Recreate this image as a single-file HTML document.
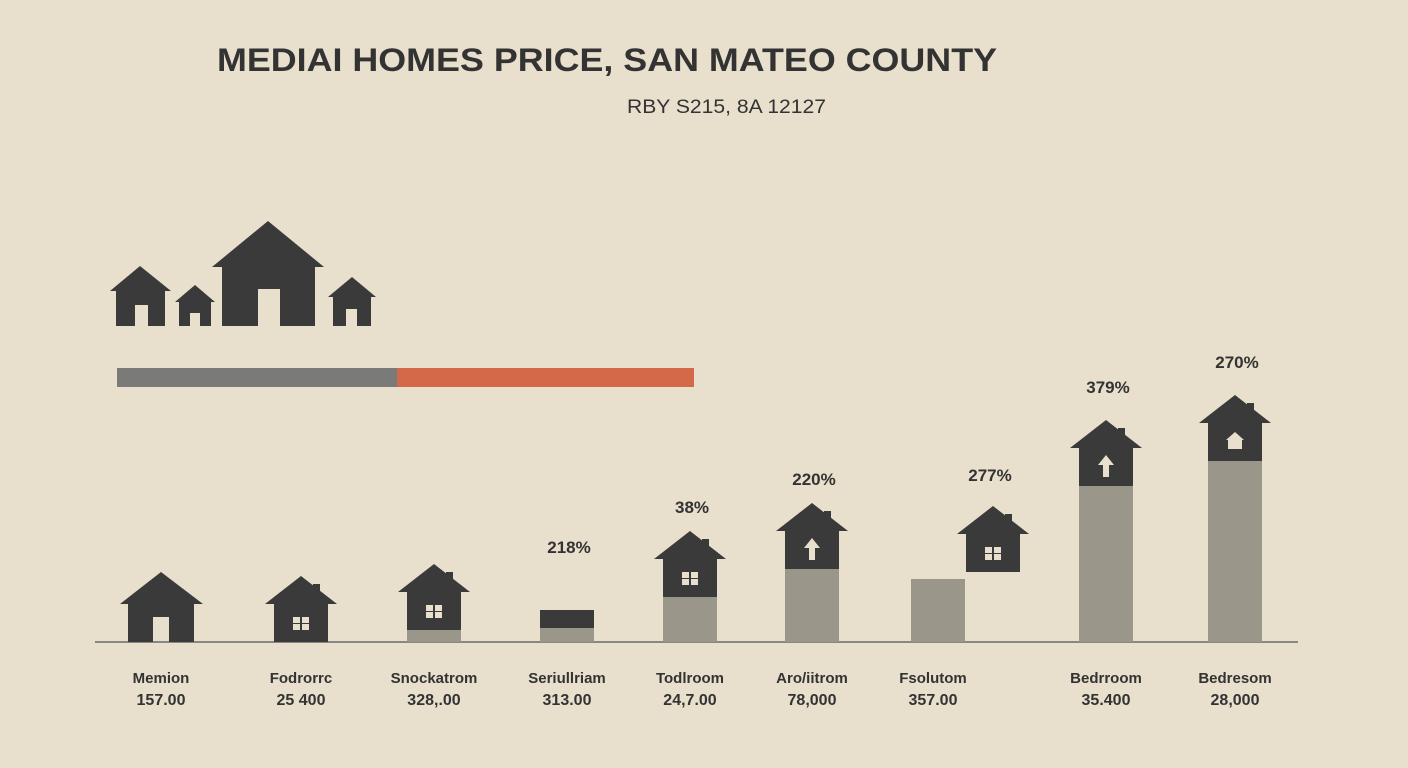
<!DOCTYPE html>
<html><head><meta charset="utf-8">
<style>
html,body{margin:0;padding:0;background:#e8dfcc;}
svg{display:block;font-family:"Liberation Sans",sans-serif;}
</style></head>
<body>
<svg id="chart" width="1408" height="768" viewBox="0 0 1408 768">
<rect width="1408" height="768" fill="#e8dfcc"/>
<text x="217" y="71" font-size="32" font-weight="bold" fill="#333" textLength="780" lengthAdjust="spacingAndGlyphs">MEDIAI HOMES PRICE, SAN MATEO COUNTY</text>
<text x="627" y="113" font-size="19" fill="#333" textLength="199" lengthAdjust="spacingAndGlyphs">RBY S215, 8A 12127</text>
<g fill="#3a3a3a">
<path d="M110 291 L140 266 L171 291 L165 291 L165 326 L148 326 L148 305 L135 305 L135 326 L116 326 L116 291 Z"/>
<path d="M175 302 L195 285 L215 302 L211 302 L211 326 L200 326 L200 313 L190 313 L190 326 L179 326 L179 302 Z"/>
<path d="M212 267 L268 221 L324 267 L315 267 L315 326 L280 326 L280 289 L258 289 L258 326 L222 326 L222 267 Z"/>
<path d="M328 297 L352 277 L376 297 L371 297 L371 326 L357 326 L357 309 L346 309 L346 326 L333 326 L333 297 Z"/>
</g>
<rect x="117" y="368" width="280" height="19" fill="#7a7a78"/>
<rect x="397" y="368" width="297" height="19" fill="#d4694a"/>
<line x1="95" y1="642" x2="1298" y2="642" stroke="#8a8780" stroke-width="2"/>
<g id="marks"></g>
</svg>
<script>
const categories = ["Memion","Fodrorrc","Snockatrom","Seriullriam","Todlroom","Aro/iitrom","Fsolutom","Bedrroom","Bedresom"];
const valueLabels = ["157.00","25 400","328,.00","313.00","24,7.00","78,000","357.00","35.400","28,000"];
const barValues = [0,0,12,14,45,73,63,156,181];
const pctLabels = ["","","","218%","38%","220%","277%","379%","270%"];
const centers = [161,301,434,567,690,812,938,1106,1235];
const baseY = 642;
function y(v){ return baseY - v; }
const NS = "http://www.w3.org/2000/svg";
const g = document.getElementById("marks");
function mk(tag, attrs){ const e=document.createElementNS(NS,tag); for(const k in attrs) e.setAttribute(k,attrs[k]); g.appendChild(e); return e; }
function house(cx, bottom, i, kind){
  const w=54, bodyH=38, roofH=28, over=9;
  const top = bottom - bodyH, peak = top - roofH;
  const p = mk("path",{d:`M${cx-w/2-over} ${top} L${cx} ${peak} L${cx+w/2+over} ${top} L${cx+w/2} ${top} L${cx+w/2} ${bottom} L${cx-w/2} ${bottom} L${cx-w/2} ${top} Z`,fill:"#3a3a3a"});
  
  
  const ch = mk("rect",{x:cx+12,y:peak+8,width:7,height:14,fill:"#3a3a3a"});
  
  
  const my = top + bodyH/2;
  if(kind==="win"){
    const r=mk("path",{d:`M${cx-8} ${my-6}h7v6h-7z M${cx+1} ${my-6}h7v6h-7z M${cx-8} ${my+1}h7v6h-7z M${cx+1} ${my+1}h7v6h-7z`,fill:"#e8dfcc"});
    
    
  } else if(kind==="arrow"){
    const r=mk("path",{d:`M${cx} ${my-12} L${cx+8} ${my-2} L${cx+3} ${my-2} L${cx+3} ${my+10} L${cx-3} ${my+10} L${cx-3} ${my-2} L${cx-8} ${my-2} Z`,fill:"#e8dfcc"});
    
    
  } else if(kind==="mini"){
    const r=mk("path",{d:`M${cx} ${my-10} L${cx+9} ${my-2} L${cx+7} ${my-2} L${cx+7} ${my+7} L${cx-7} ${my+7} L${cx-7} ${my-2} L${cx-9} ${my-2} Z`,fill:"#e8dfcc"});
    
    
  }
}
const kinds = ["door","win","win","none","win","arrow","win","arrow","mini"];
categories.forEach((c,i)=>{
  const v = barValues[i];
  let cx = centers[i];
  let barX = cx - 27;
  if(i===6){ barX = 911; }
  if(v>0){
    const b = mk("rect",{x:barX,y:y(v),width:54,height:v,fill:"#9a978a"});
    
    
  }
  let houseBottom = y(v);
  if(i===0){
    const p=mk("path",{d:`M120 604 L161 572 L203 604 L194 604 L194 642 L169 642 L169 617 L153 617 L153 642 L128 642 L128 604 Z`,fill:"#3a3a3a"});
    
    
  } else if(i===3){
    const r=mk("rect",{x:cx-27,y:y(v)-18,width:54,height:18,fill:"#3a3a3a"});
    
    
  } else if(i===6){
    house(993, 572, i, kinds[i]);
  } else {
    house(cx, houseBottom, i, kinds[i]);
  }
  if(pctLabels[i]){
    const py = i===3 ? 553 : (i===6 ? 481 : y(v)-38-28-18 - (i>=7?9:0));
    const tx = mk("text",{x:i===6?990:cx+2,y:py,"text-anchor":"middle","font-size":"17","font-weight":"bold",fill:"#333"});
    tx.textContent = pctLabels[i];
    
    
  }
  const lx = i===6 ? 933 : cx;
  const t1 = mk("text",{x:lx,y:683,"text-anchor":"middle","font-size":"15","font-weight":"bold",fill:"#333"});
  t1.textContent = c;
  
  
  const t2 = mk("text",{x:lx,y:705,"text-anchor":"middle","font-size":"16","font-weight":"bold",fill:"#333"});
  t2.textContent = valueLabels[i];
  
  
});
</script>
</body></html>
